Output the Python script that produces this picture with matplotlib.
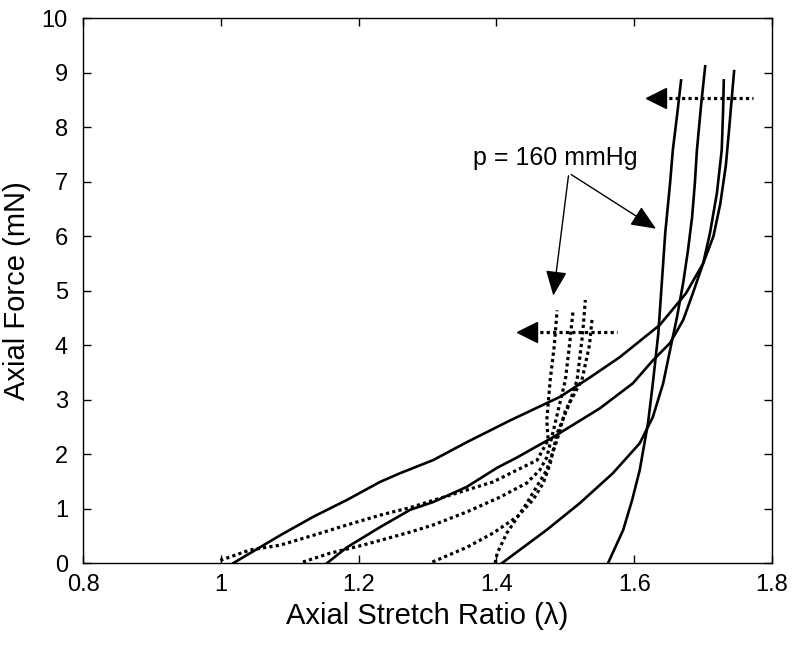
import matplotlib
matplotlib.use("Agg")
import matplotlib.pyplot as plt

plt.rcParams['font.family'] = ['Liberation Sans', 'DejaVu Sans']

# solid curves (stretch ratio, force in mN)
s1_x = [1.018, 1.086, 1.134, 1.183, 1.231, 1.260, 1.308, 1.357, 1.420, 1.492, 1.536,
        1.579, 1.637, 1.675, 1.70, 1.715, 1.725, 1.733, 1.738, 1.742, 1.745]
s1_y = [0.0, 0.51, 0.85, 1.16, 1.49, 1.65, 1.89, 2.22, 2.62, 3.05, 3.41,
        3.78, 4.37, 4.95, 5.5, 6.0, 6.6, 7.3, 8.0, 8.6, 9.03]
s2_x = [1.154, 1.183, 1.231, 1.275, 1.308, 1.357, 1.401, 1.430, 1.482, 1.550, 1.598,
        1.627, 1.652, 1.671, 1.685, 1.700, 1.710, 1.720, 1.727, 1.729, 1.730]
s2_y = [0.0, 0.29, 0.66, 0.98, 1.12, 1.40, 1.75, 1.94, 2.31, 2.84, 3.30,
        3.72, 4.04, 4.46, 4.95, 5.50, 6.06, 6.79, 7.58, 8.3, 8.86]
s3_x = [1.408, 1.473, 1.521, 1.569, 1.608, 1.627, 1.642, 1.652, 1.662, 1.671,
        1.678, 1.684, 1.688, 1.691, 1.697, 1.703]
s3_y = [0.0, 0.61, 1.10, 1.65, 2.20, 2.68, 3.30, 3.91, 4.51, 5.14,
        5.74, 6.35, 6.97, 7.58, 8.4, 9.12]
s4_x = [1.562, 1.584, 1.597, 1.608, 1.620, 1.627, 1.635, 1.640, 1.645, 1.652,
        1.656, 1.662, 1.668]
s4_y = [0.0, 0.61, 1.16, 1.71, 2.57, 3.30, 4.22, 5.14, 6.06, 6.97,
        7.58, 8.2, 8.86]

# dotted curves
d1_x = [0.999, 1.042, 1.086, 1.134, 1.183, 1.231, 1.275, 1.318, 1.395, 1.459,
        1.475, 1.473, 1.478, 1.484, 1.488]
d1_y = [0.05, 0.24, 0.33, 0.51, 0.70, 0.88, 1.02, 1.19, 1.49, 1.89,
        2.26, 2.62, 3.36, 4.0, 4.64]
d2_x = [1.119, 1.158, 1.206, 1.275, 1.308, 1.357, 1.405, 1.444, 1.463, 1.473,
        1.482, 1.500, 1.506, 1.511]
d2_y = [0.02, 0.18, 0.33, 0.57, 0.70, 0.94, 1.21, 1.47, 1.71, 1.94,
        2.4, 3.36, 4.0, 4.61]
d3_x = [1.307, 1.357, 1.395, 1.430, 1.453, 1.468, 1.478, 1.488, 1.505, 1.517,
        1.525, 1.529]
d3_y = [0.02, 0.29, 0.55, 0.85, 1.16, 1.47, 1.83, 2.38, 2.9, 3.36,
        4.2, 4.83]
d4_x = [1.398, 1.401, 1.415, 1.444, 1.473, 1.488, 1.500, 1.524, 1.535, 1.539]
d4_y = [0.0, 0.18, 0.55, 1.10, 1.71, 2.26, 2.8, 3.36, 4.0, 4.51]

# failure markers with dotted horizontal lines
mark_x = [1.632, 1.444]
mark_y = [8.54, 4.25]
mark_end = [1.772, 1.575]

fig = plt.figure(figsize=(8, 6.54), dpi=100)
ax = fig.add_axes([0.104, 0.139, 0.861, 0.833])

dots = (0, (1, 1))
for xs, ys in [(s1_x, s1_y), (s2_x, s2_y), (s3_x, s3_y), (s4_x, s4_y)]:
    ax.plot(xs, ys, color='black', lw=1.9)
for xs, ys in [(d1_x, d1_y), (d2_x, d2_y), (d3_x, d3_y), (d4_x, d4_y)]:
    ax.plot(xs, ys, color='black', lw=2.3, linestyle=dots)

for mx, my, me in zip(mark_x, mark_y, mark_end):
    ax.plot([mx, me], [my, my], color='black', lw=2.3, linestyle=dots)
    ax.plot(mx, my, marker='<', color='black', markersize=14)

ax.text(1.486, 7.43, 'p = 160 mmHg', fontsize=18, ha='center', va='center')
arrow = dict(arrowstyle='-|>,head_length=0.7,head_width=0.3', color='black',
             lw=1.0, mutation_scale=22)
ax.annotate('', xy=(1.482, 4.86), xytext=(1.505, 7.16), arrowprops=arrow)
ax.annotate('', xy=(1.635, 6.11), xytext=(1.505, 7.16), arrowprops=arrow)

ax.set_xlim(0.8, 1.8)
ax.set_ylim(0, 10)
ax.set_xticks([0.8, 1.0, 1.2, 1.4, 1.6, 1.8])
ax.set_xticklabels(['0.8', '1', '1.2', '1.4', '1.6', '1.8'])
ax.set_yticks(range(0, 11))
ax.tick_params(direction='in', length=6, width=1, top=True, right=True,
               labelsize=17)
ax.tick_params(axis='x', pad=8)
ax.tick_params(axis='y', pad=11)
for sp in ax.spines.values():
    sp.set_linewidth(1.0)

ax.set_xlabel('Axial Stretch Ratio (λ)', fontsize=21, labelpad=4)
ax.set_ylabel('Axial Force (mN)', fontsize=21, labelpad=8)

fig.savefig('out.png', dpi=100)
